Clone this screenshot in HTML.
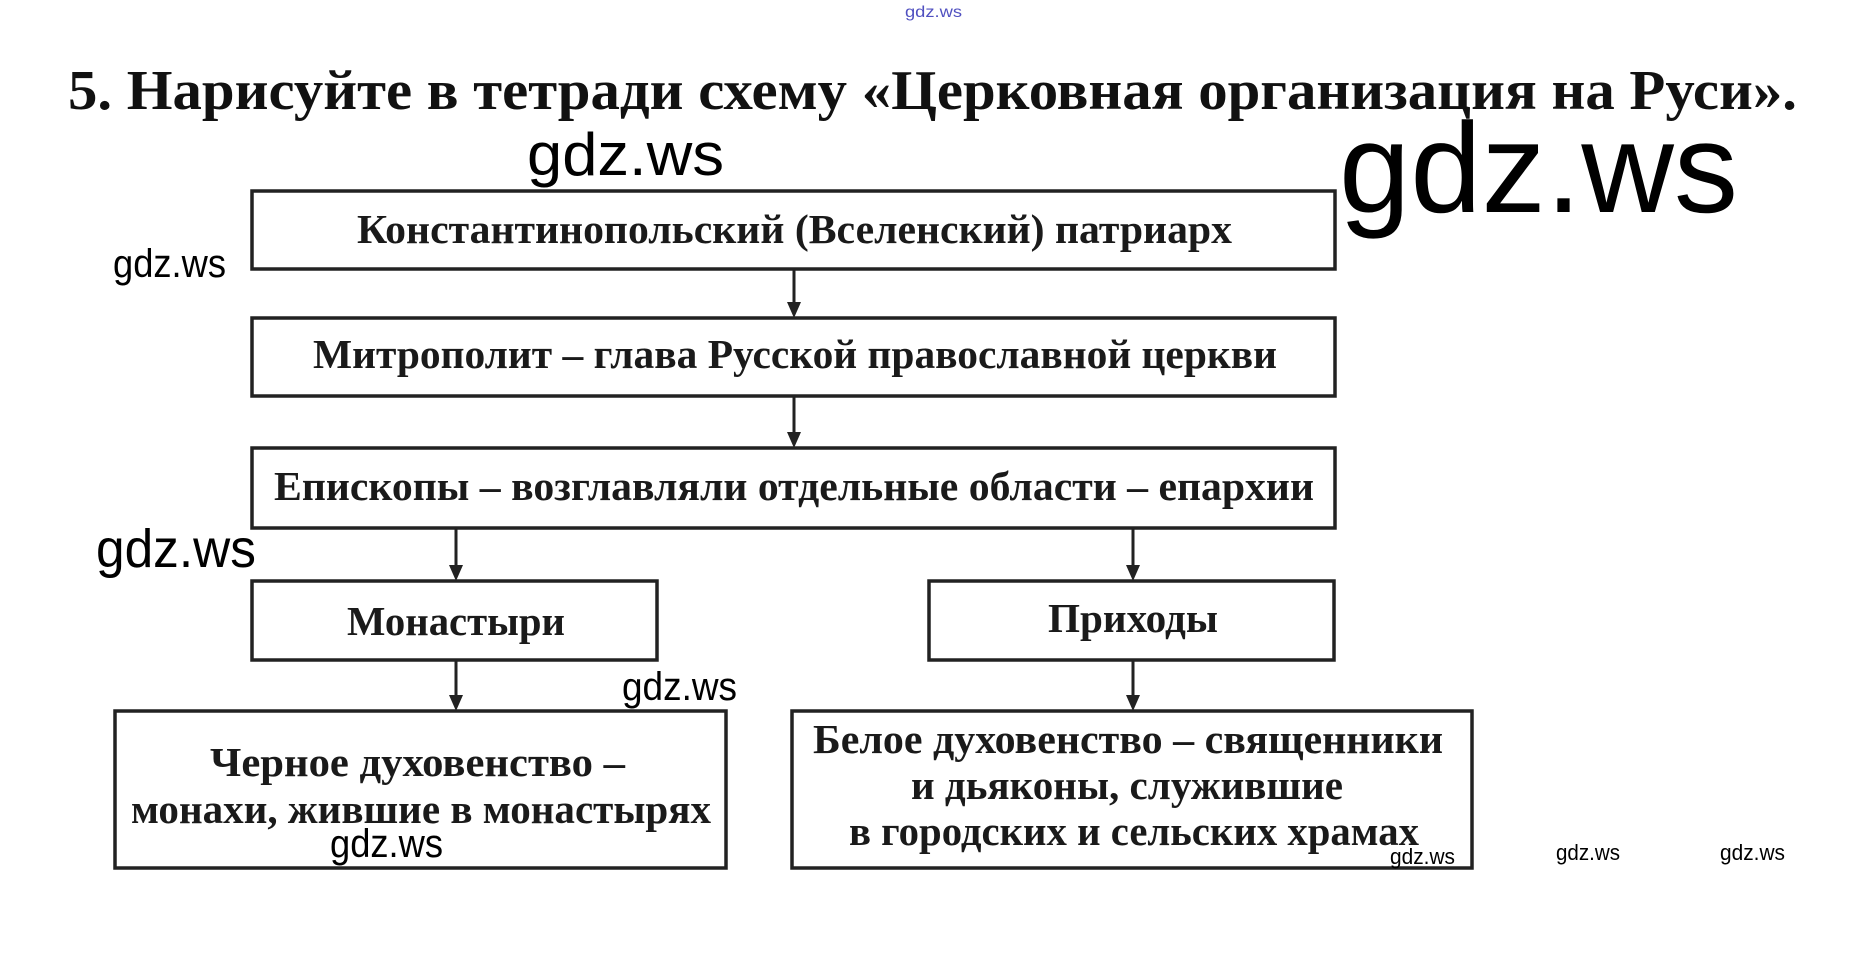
<!DOCTYPE html>
<html><head><meta charset="utf-8"><style>
html,body{margin:0;padding:0;background:#fff;width:1857px;height:979px;overflow:hidden}
svg{display:block}
.t{font-family:"Liberation Serif",serif;font-weight:bold;fill:#111}
.b{font-family:"Liberation Serif",serif;fill:#1a1a1a;font-weight:bold}
.w{font-family:"Liberation Sans",sans-serif;fill:#000}
rect{fill:#fff;stroke:#222;stroke-width:3.5}
line{stroke:#222;stroke-width:3}
polygon{fill:#222}
</style></head><body>
<svg width="1857" height="979" viewBox="0 0 1857 979" xmlns="http://www.w3.org/2000/svg">
<text class="w" x="905" y="17" font-size="16" style="fill:#5050c0" textLength="57" lengthAdjust="spacingAndGlyphs">gdz.ws</text>
<text class="t" x="68" y="109" font-size="56" textLength="1729" lengthAdjust="spacingAndGlyphs">5. Нарисуйте в тетради схему «Церковная организация на Руси».</text>

<rect x="252" y="191" width="1083" height="78"/>
<rect x="252" y="318" width="1083" height="78"/>
<rect x="252" y="448" width="1083" height="80"/>
<rect x="252" y="581" width="405" height="79"/>
<rect x="929" y="581" width="405" height="79"/>
<rect x="115" y="711" width="611" height="157"/>
<rect x="792" y="711" width="680" height="157"/>

<line x1="794" y1="269" x2="794" y2="304"/><polygon points="787,302 801,302 794,318"/>
<line x1="794" y1="396" x2="794" y2="434"/><polygon points="787,432 801,432 794,448"/>
<line x1="456" y1="528" x2="456" y2="567"/><polygon points="449,565 463,565 456,581"/>
<line x1="1133" y1="528" x2="1133" y2="567"/><polygon points="1126,565 1140,565 1133,581"/>
<line x1="456" y1="660" x2="456" y2="697"/><polygon points="449,695 463,695 456,711"/>
<line x1="1133" y1="660" x2="1133" y2="697"/><polygon points="1126,695 1140,695 1133,711"/>

<text class="b" x="357" y="243" font-size="41" textLength="875" lengthAdjust="spacingAndGlyphs">Константинопольский (Вселенский) патриарх</text>
<text class="b" x="313" y="368" font-size="41" textLength="964" lengthAdjust="spacingAndGlyphs">Митрополит – глава Русской православной церкви</text>
<text class="b" x="274" y="500" font-size="41" textLength="1040" lengthAdjust="spacingAndGlyphs">Епископы – возглавляли отдельные области – епархии</text>
<text class="b" x="347" y="635" font-size="41" textLength="218" lengthAdjust="spacingAndGlyphs">Монастыри</text>
<text class="b" x="1048" y="632" font-size="41" textLength="170" lengthAdjust="spacingAndGlyphs">Приходы</text>
<text class="b" x="210" y="776" font-size="41" textLength="415" lengthAdjust="spacingAndGlyphs">Черное духовенство –</text>
<text class="b" x="131" y="823" font-size="41" textLength="580" lengthAdjust="spacingAndGlyphs">монахи, жившие в монастырях</text>
<text class="b" x="813" y="753" font-size="41" textLength="630" lengthAdjust="spacingAndGlyphs">Белое духовенство – священники</text>
<text class="b" x="911" y="799" font-size="41" textLength="432" lengthAdjust="spacingAndGlyphs">и дьяконы, служившие</text>
<text class="b" x="849" y="845" font-size="41" textLength="570" lengthAdjust="spacingAndGlyphs">в городских и сельских храмах</text>

<text class="w" x="527" y="175" font-size="60" textLength="197" lengthAdjust="spacingAndGlyphs">gdz.ws</text>
<text class="w" x="1339" y="212" font-size="128" textLength="399" lengthAdjust="spacingAndGlyphs">gdz.ws</text>
<text class="w" x="113" y="277" font-size="40" textLength="113" lengthAdjust="spacingAndGlyphs">gdz.ws</text>
<text class="w" x="96" y="567" font-size="54" textLength="160" lengthAdjust="spacingAndGlyphs">gdz.ws</text>
<text class="w" x="622" y="700" font-size="40" textLength="115" lengthAdjust="spacingAndGlyphs">gdz.ws</text>
<text class="w" x="330" y="857" font-size="40" textLength="113" lengthAdjust="spacingAndGlyphs">gdz.ws</text>
<text class="w" x="1390" y="864" font-size="22" textLength="65" lengthAdjust="spacingAndGlyphs">gdz.ws</text>
<text class="w" x="1556" y="860" font-size="22" textLength="64" lengthAdjust="spacingAndGlyphs">gdz.ws</text>
<text class="w" x="1720" y="860" font-size="22" textLength="65" lengthAdjust="spacingAndGlyphs">gdz.ws</text>
</svg>
</body></html>
